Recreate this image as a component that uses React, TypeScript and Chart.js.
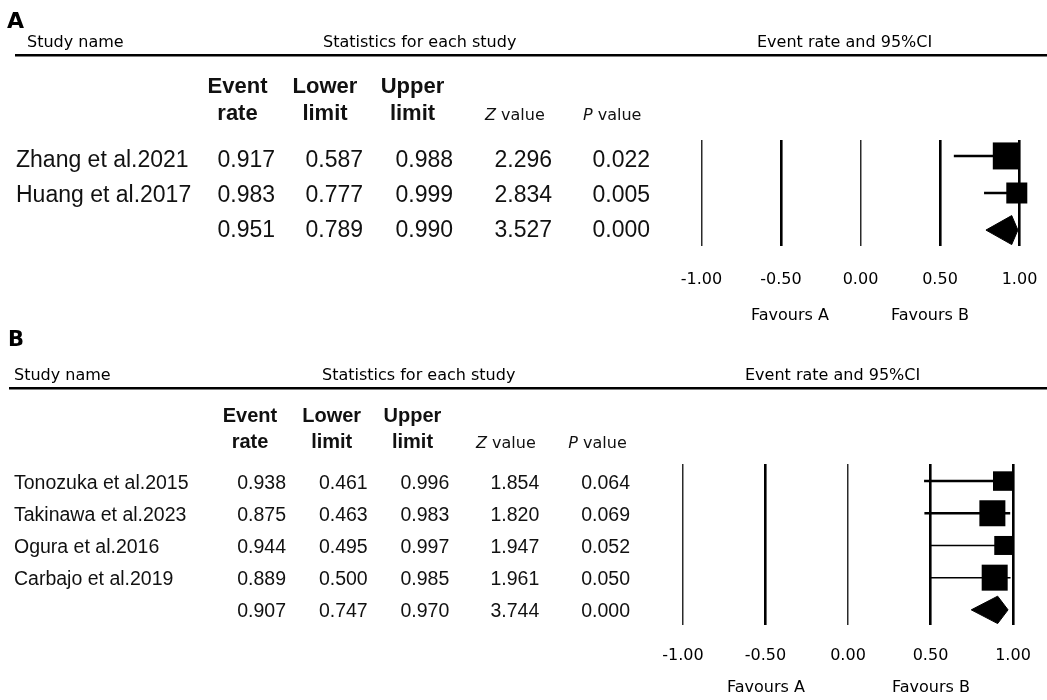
import React, { useEffect, useRef } from "react";
import { Chart, registerables } from "chart.js";

Chart.register(...registerables);

const W = 1047;
const H = 700;

// ---------- Panel A data ----------
const studyNamesA = ["Zhang et al.2021", "Huang et al.2017", ""];
const eventRateA = [0.917, 0.983, 0.951];
const lowerLimitA = [0.587, 0.777, 0.789];
const upperLimitA = [0.988, 0.999, 0.99];
const zValueA = [2.296, 2.834, 3.527];
const pValueA = [0.022, 0.005, 0.0];

// ---------- Panel B data ----------
const studyNamesB = [
  "Tonozuka et al.2015",
  "Takinawa et al.2023",
  "Ogura et al.2016",
  "Carbajo et al.2019",
  "",
];
const eventRateB = [0.938, 0.875, 0.944, 0.889, 0.907];
const lowerLimitB = [0.461, 0.463, 0.495, 0.5, 0.747];
const upperLimitB = [0.996, 0.983, 0.997, 0.985, 0.97];
const zValueB = [1.854, 1.82, 1.947, 1.961, 3.744];
const pValueB = [0.064, 0.069, 0.052, 0.05, 0.0];

// ---------- axis ----------
const xTickValues = [-1, -0.5, 0, 0.5, 1];
const thickGridValues = [-0.5, 0.5, 1];

// ---------- layout / styles ----------
const layoutA = {
  letter: "A", letterX: 7, letterY: 28, letterSize: 22,
  headY: 47, studyX: 27, statsX: 323, ciX: 757,
  ruleY: 54, ruleX0: 15,
  boldSize: 22, colHeadY: [93, 120], colCenters: [237.5, 325, 412.5],
  zX: 485, pX: 583, zpY: 120,
  rowY0: 166.5, rowStep: 35, rowSize: 23, nameX: 16,
  valueRight: [275, 363, 453, 552, 650],
  area: { left: 701.5, right: 1019.5, top: 140, bottom: 246 },
  yMin: -0.43, yMax: 2.43, tickPad: 24.5,
  favAX: 790, favBX: 930, favY: 320,
  squareSide: [27, 21], ciWidth: [2.5, 2.5], diamondHalfPx: 14.5,
};

const layoutB = {
  letter: "B", letterX: 8, letterY: 346, letterSize: 21,
  headY: 380, studyX: 14, statsX: 322, ciX: 745,
  ruleY: 387, ruleX0: 9,
  boldSize: 20, colHeadY: [421.7, 448.3], colCenters: [250, 331.7, 412.5],
  zX: 476, pX: 568.3, zpY: 448.3,
  rowY0: 489.3, rowStep: 31.85, rowSize: 19.5, nameX: 14,
  valueRight: [286, 367.7, 449.3, 539.3, 630],
  area: { left: 683, right: 1013, top: 464, bottom: 625 },
  yMin: -0.53, yMax: 4.47, tickPad: 21.4,
  favAX: 766, favBX: 931, favY: 691.7,
  squareSide: [19.5, 26, 19, 26], ciWidth: [2.5, 2.5, 1.5, 1.5], diamondHalfPx: 13.7,
};

const AXIS_H = 40;
const VERDANA = '"DejaVu Sans", Verdana, sans-serif';
const ARIAL = '"Liberation Sans", Arial, sans-serif';
const TEXT = "#111";

type Panel = {
  L: typeof layoutA;
  names: string[];
  rate: number[];
  lower: number[];
  upper: number[];
  z: number[];
  p: number[];
};

function drawTable(chart: any, P: Panel) {
  const { L } = P;
  const ctx: CanvasRenderingContext2D = chart.ctx;
  ctx.save();
  ctx.fillStyle = "#000";
  ctx.textBaseline = "alphabetic";
  ctx.textAlign = "left";

  ctx.font = `bold ${L.letterSize}px ${VERDANA}`;
  ctx.fillText(L.letter, L.letterX, L.letterY);

  ctx.font = `16px ${VERDANA}`;
  ctx.fillText("Study name", L.studyX, L.headY);
  ctx.fillText("Statistics for each study", L.statsX, L.headY);
  ctx.fillText("Event rate and 95%CI", L.ciX, L.headY);

  ctx.fillRect(L.ruleX0, L.ruleY, W - L.ruleX0, 2.5);

  ctx.fillStyle = TEXT;
  ctx.font = `bold ${L.boldSize}px ${ARIAL}`;
  ctx.textAlign = "center";
  const heads = [["Event", "rate"], ["Lower", "limit"], ["Upper", "limit"]];
  heads.forEach((h, i) => {
    ctx.fillText(h[0], L.colCenters[i], L.colHeadY[0]);
    ctx.fillText(h[1], L.colCenters[i], L.colHeadY[1]);
  });

  ctx.textAlign = "left";
  const italicLabel = (letter: string, x: number) => {
    ctx.font = `italic 16px ${VERDANA}`;
    ctx.fillText(letter, x, L.zpY);
    const w = ctx.measureText(letter).width;
    ctx.font = `16px ${VERDANA}`;
    ctx.fillText(" value", x + w, L.zpY);
  };
  italicLabel("Z", L.zX);
  italicLabel("P", L.pX);

  ctx.font = `${L.rowSize}px ${ARIAL}`;
  P.names.forEach((name, i) => {
    const y = L.rowY0 + i * L.rowStep;
    ctx.textAlign = "left";
    ctx.fillText(name, L.nameX, y);
    ctx.textAlign = "right";
    const vals = [P.rate[i], P.lower[i], P.upper[i], P.z[i], P.p[i]];
    vals.forEach((v, j) => ctx.fillText(v.toFixed(3), L.valueRight[j], y));
  });

  ctx.fillStyle = "#000";
  ctx.font = `16px ${VERDANA}`;
  ctx.textAlign = "center";
  ctx.fillText("Favours A", L.favAX, L.favY);
  ctx.fillText("Favours B", L.favBX, L.favY);
  ctx.restore();
}

function makeConfig(P: Panel): any {
  const { L } = P;
  const n = P.names.length;
  const nStudies = n - 1;
  const pxPerUnit = (L.area.bottom - L.area.top) / (L.yMax - L.yMin);
  const half = L.diamondHalfPx / pxPerUnit;

  const datasets: any[] = [];
  for (let i = 0; i < nStudies; i++) {
    datasets.push({
      label: `ci${i}`,
      data: [
        { x: P.lower[i], y: i },
        { x: P.upper[i], y: i },
      ],
      showLine: true,
      borderColor: "#000",
      borderWidth: L.ciWidth[i],
      pointRadius: 0,
      fill: false,
      clip: false,
    });
  }
  datasets.push({
    label: "squares",
    data: P.rate.slice(0, nStudies).map((v, i) => ({ x: v, y: i })),
    showLine: false,
    pointStyle: "rect",
    pointRadius: L.squareSide.map((s) => s / Math.SQRT2),
    backgroundColor: "#000",
    borderColor: "#000",
    borderWidth: 0,
    clip: false,
  });
  const s = nStudies;
  datasets.push({
    label: "summary",
    data: [
      { x: P.lower[s], y: s },
      { x: P.rate[s], y: s - half },
      { x: P.upper[s], y: s },
      { x: P.rate[s], y: s + half },
      { x: P.lower[s], y: s },
    ],
    showLine: true,
    borderColor: "#000",
    borderWidth: 1,
    backgroundColor: "#000",
    pointRadius: 0,
    fill: "shape",
    tension: 0,
    clip: false,
  });

  return {
    type: "scatter",
    data: { datasets },
    options: {
      animation: false,
      responsive: false,
      maintainAspectRatio: false,
      events: [],
      layout: {
        padding: {
          left: L.area.left,
          right: W - L.area.right,
          top: L.area.top,
          bottom: H - L.area.bottom - AXIS_H,
        },
      },
      plugins: {
        legend: { display: false },
        tooltip: { enabled: false },
        title: { display: false },
      },
      scales: {
        x: {
          type: "linear",
          min: -1,
          max: 1,
          afterBuildTicks: (scale: any) => {
            scale.ticks = xTickValues.map((v) => ({ value: v }));
          },
          afterFit: (scale: any) => {
            scale.height = AXIS_H;
            scale.paddingLeft = 0;
            scale.paddingRight = 0;
          },
          border: { display: false },
          grid: {
            drawTicks: false,
            drawOnChartArea: true,
            color: (c: any) =>
              c.tick && thickGridValues.includes(c.tick.value) ? "#000" : "#2a2a2a",
            lineWidth: (c: any) =>
              c.tick && thickGridValues.includes(c.tick.value) ? 2.6 : 1.5,
          },
          ticks: {
            padding: L.tickPad,
            color: "#000",
            font: { family: VERDANA, size: 16 },
            callback: (v: any) => Number(v).toFixed(2),
            maxRotation: 0,
            autoSkip: false,
          },
        },
        y: {
          type: "linear",
          display: false,
          reverse: true,
          min: L.yMin,
          max: L.yMax,
        },
      },
    },
    plugins: [
      {
        id: "forestTable",
        afterDraw: (chart: any) => drawTable(chart, P),
      },
    ],
  };
}

const panelA: Panel = {
  L: layoutA,
  names: studyNamesA,
  rate: eventRateA,
  lower: lowerLimitA,
  upper: upperLimitA,
  z: zValueA,
  p: pValueA,
};
const panelB: Panel = {
  L: layoutB,
  names: studyNamesB,
  rate: eventRateB,
  lower: lowerLimitB,
  upper: upperLimitB,
  z: zValueB,
  p: pValueB,
};

export default function App() {
  const refA = useRef<HTMLCanvasElement | null>(null);
  const refB = useRef<HTMLCanvasElement | null>(null);

  useEffect(() => {
    const a = new Chart(refA.current as HTMLCanvasElement, makeConfig(panelA));
    const b = new Chart(refB.current as HTMLCanvasElement, makeConfig(panelB));
    return () => {
      a.destroy();
      b.destroy();
    };
  }, []);

  const style: React.CSSProperties = {
    position: "absolute",
    left: 0,
    top: 0,
    width: W,
    height: H,
  };
  return (
    <div style={{ position: "absolute", left: 0, top: 0, width: W, height: H, background: "#fff" }}>
      <canvas ref={refA} width={W} height={H} style={style} />
      <canvas ref={refB} width={W} height={H} style={style} />
    </div>
  );
}
